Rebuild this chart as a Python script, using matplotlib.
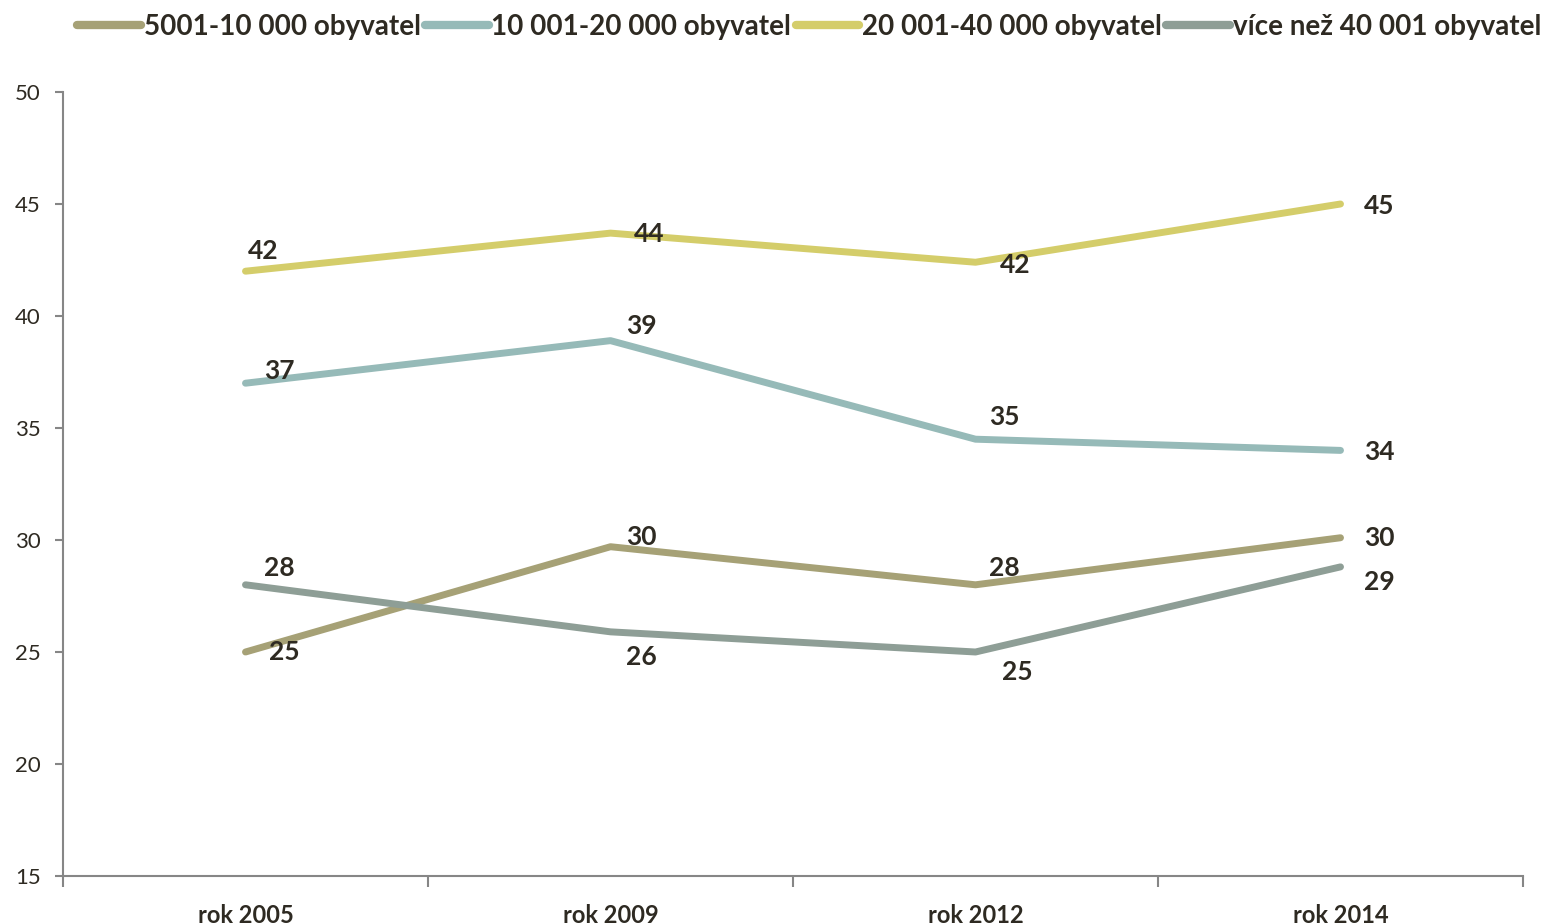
import matplotlib
matplotlib.use("Agg")
import matplotlib.pyplot as plt
import numpy as np

# survey years and values per town size
years = ["rok 2005", "rok 2009", "rok 2012", "rok 2014"]
series_names = ["5001-10 000 obyvatel", "10 001-20 000 obyvatel",
                "20 001-40 000 obyvatel", "více než 40 001 obyvatel"]
small_towns = [25.0, 29.7, 28.0, 30.1]
mid_towns = [37.0, 38.9, 34.5, 34.0]
large_towns = [42.0, 43.7, 42.4, 45.0]
cities = [28.0, 25.9, 25.0, 28.8]

colors = ["#A6A176", "#96BAB8", "#D4CD6A", "#8E9E96"]
text_color = "#2E2A22"

# label offsets in pixels (dx, dy up) for each point
label_offsets = [
    [(39, 0), (31, 10), (29, 17), (39, 0)],
    [(34, 12), (31, 15), (29, 22), (39, -2)],
    [(18, 20), (39, -1), (40, -3), (39, -2)],
    [(34, 17), (31, -25), (42, -20), (39, -15)],
]

plt.rcParams['font.family'] = ['Lato', 'DejaVu Sans']

fig = plt.figure(figsize=(15.56, 9.24), dpi=100)
ax = fig.add_axes([63 / 1556, 1 - 876 / 924, (1523 - 63) / 1556, (876 - 92) / 924])

x = np.arange(len(years))
all_series = [small_towns, mid_towns, large_towns, cities]
for vals, name, col, offs in zip(all_series, series_names, colors, label_offsets):
    ax.plot(x, vals, color=col, lw=5, solid_capstyle="round",
            solid_joinstyle="round", label=name)
    for xi, v, (dx, dy) in zip(x, vals, offs):
        # round half up like the spreadsheet does
        ax.annotate(str(int(np.floor(v + 0.5))), (xi, v), xytext=(dx, dy),
                    textcoords="offset pixels", ha="center", va="center",
                    fontsize=19, fontweight="bold", color=text_color)

ax.set_xlim(-0.5, len(years) - 0.5)
ax.set_ylim(15, 50)
ax.set_yticks(range(15, 51, 5))
ax.set_xticks(np.arange(-0.5, len(years), 1.0))
ax.set_xticklabels([])
ax.set_xticks(x, minor=True)
ax.set_xticklabels(years, minor=True, fontsize=17, fontweight="bold", color=text_color)
ax.tick_params(axis="x", which="minor", length=0, pad=20)
ax.tick_params(axis="x", which="major", length=8, width=1.5, color="#868686")
ax.tick_params(axis="y", length=6, width=1.5, color="#868686",
               labelsize=16, labelcolor=text_color, pad=10)

for side in ["top", "right"]:
    ax.spines[side].set_visible(False)
for side in ["left", "bottom"]:
    ax.spines[side].set_color("#868686")
    ax.spines[side].set_linewidth(1.5)

leg = fig.legend(loc="upper center", bbox_to_anchor=(0.52, 1.012), ncol=4, frameon=False,
                 prop={"size": 20, "weight": "bold"}, handlelength=2.3,
                 handletextpad=0.1, columnspacing=0.15, labelcolor=text_color)
for h in leg.legend_handles:
    h.set_linewidth(6)

fig.savefig("out.png", dpi=100, facecolor="white")
